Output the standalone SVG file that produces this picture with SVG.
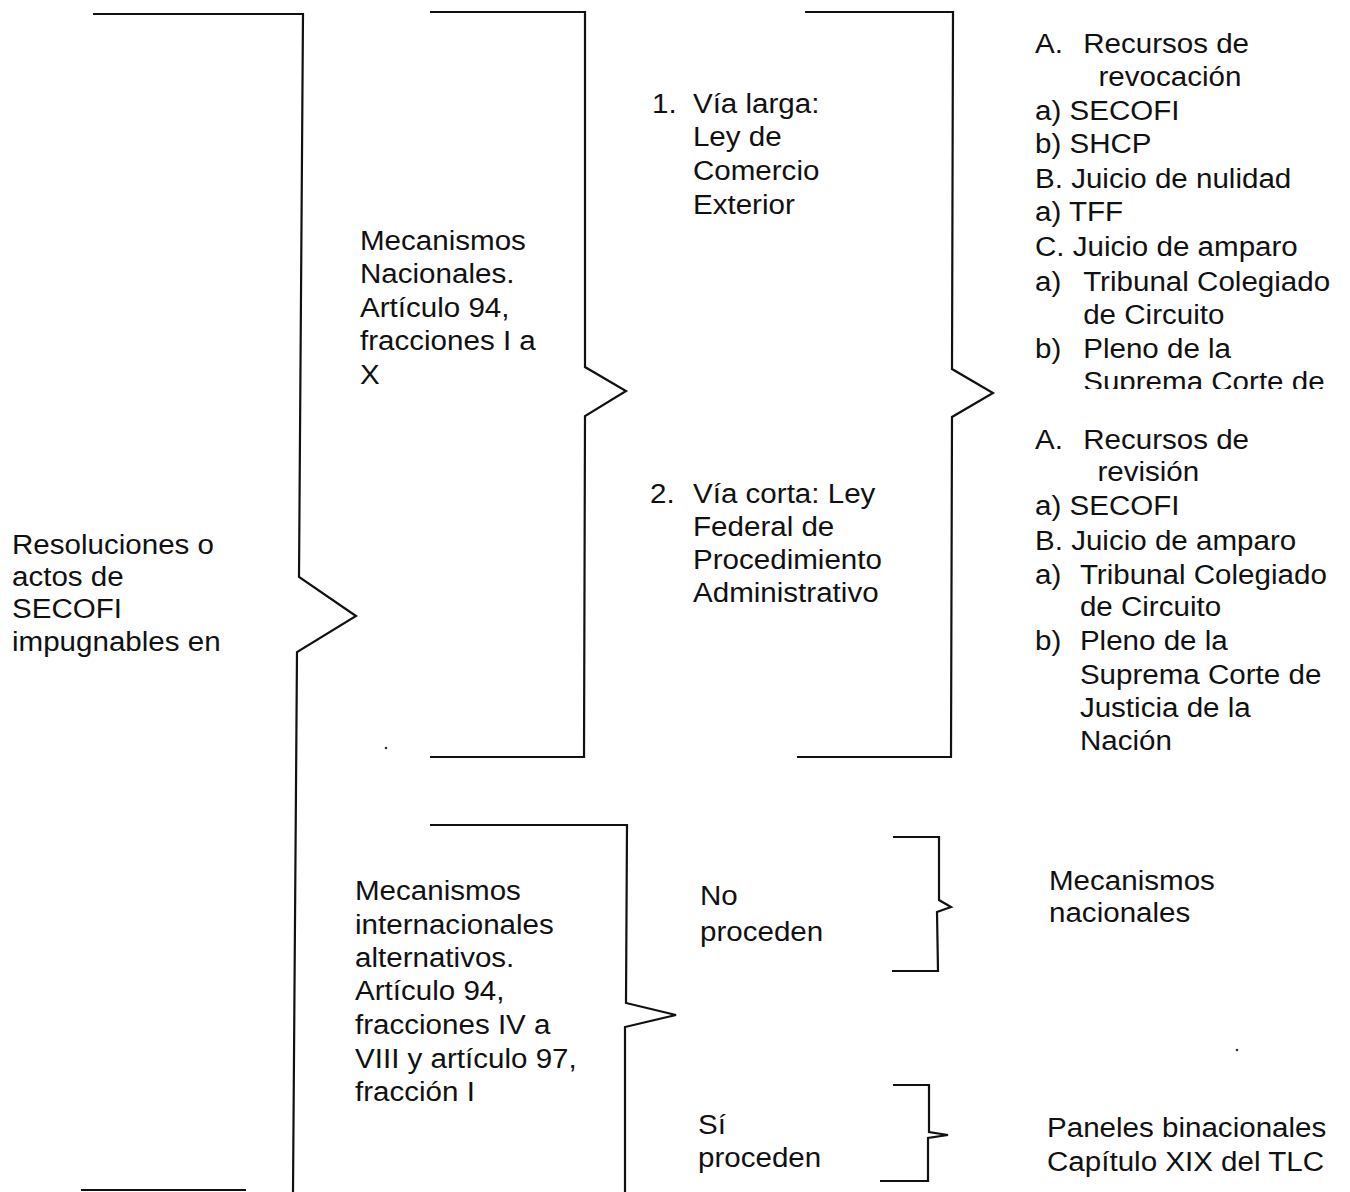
<svg xmlns="http://www.w3.org/2000/svg" width="1350" height="1192" viewBox="0 0 1350 1192">
<style>
text{font-family:"Liberation Sans",Arial,sans-serif;font-size:27px;fill:#111}
.br{fill:none;stroke:#111;stroke-width:2.2;stroke-linejoin:miter}
</style>
<defs>
<clipPath id="clipTop"><rect x="1000" y="0" width="350" height="389"/></clipPath>
</defs>
<rect width="1350" height="1192" fill="#fff"/>
<g id="connectors">
<path class="br" d="M93,14 L303,14 L299,577 L356,616 L297,652 L293,1192"/>
<path class="br" d="M81,1190 L246,1190"/>
<path class="br" d="M430,12 L585,12 L585,367 L626,391 L585,416 L584,757 L430,757"/>
<path class="br" d="M805,12 L953,12 L952,369 L993,393 L952,417 L951,757 L797,757"/>
<path class="br" d="M430,825 L627,825 L626,1003 L676,1015 L625,1027 L625,1192"/>
<path class="br" d="M893,837 L939,837 L939,900 L951,907 L937,912 L938,971 L892,971"/>
<path class="br" d="M893,1085 L929,1085 L929,1132 L948,1135 L928,1138 L928,1181 L880,1181"/>
<circle cx="386" cy="748" r="1.3" fill="#333"/>
<circle cx="1237" cy="1050" r="1.3" fill="#333"/>
</g>
<g id="n-resoluciones" transform="translate(12,0) scale(1.095,1)">
<text y="554"><tspan x="0">Resoluciones o</tspan><tspan x="0" y="586">actos de</tspan><tspan x="0" y="618">SECOFI</tspan><tspan x="0" y="651">impugnables en</tspan></text>
</g>
<g id="n-nacionales" transform="translate(360,0) scale(1.095,1)">
<text y="250"><tspan x="0">Mecanismos</tspan><tspan x="0" y="283">Nacionales.</tspan><tspan x="0" y="317">Artículo 94,</tspan><tspan x="0" y="350">fracciones I a</tspan><tspan x="0" y="384">X</tspan></text>
</g>
<g id="n-vialarga" transform="translate(652,0) scale(1.095,1)">
<text y="113"><tspan x="0">1.</tspan><tspan x="37.4" y="113">Vía larga:</tspan><tspan x="37.4" y="146">Ley de</tspan><tspan x="37.4" y="180">Comercio</tspan><tspan x="37.4" y="214">Exterior</tspan></text>
</g>
<g id="n-viacorta" transform="translate(650,0) scale(1.095,1)">
<text y="503"><tspan x="0">2.</tspan><tspan x="39.3" y="503">Vía corta: Ley</tspan><tspan x="39.3" y="536">Federal de</tspan><tspan x="39.3" y="569">Procedimiento</tspan><tspan x="39.3" y="602">Administrativo</tspan></text>
</g>
<g id="n-revocacion" clip-path="url(#clipTop)">
<g transform="translate(1035,0) scale(1.095,1)">
<text y="53"><tspan x="0">A.</tspan><tspan x="44" y="53">Recursos de</tspan><tspan x="58" y="86">revocación</tspan><tspan x="0" y="120">a) SECOFI</tspan><tspan x="0" y="153">b) SHCP</tspan><tspan x="0" y="188">B. Juicio de nulidad</tspan><tspan x="0" y="221">a) TFF</tspan><tspan x="0" y="256">C. Juicio de amparo</tspan><tspan x="0" y="291">a)</tspan><tspan x="44" y="291">Tribunal Colegiado</tspan><tspan x="44" y="324">de Circuito</tspan><tspan x="0" y="358">b)</tspan><tspan x="44" y="358">Pleno de la</tspan><tspan x="44" y="391">Suprema Corte de</tspan></text>
</g>
</g>
<g id="n-revision" transform="translate(1035,0) scale(1.095,1)">
<text y="449"><tspan x="0">A.</tspan><tspan x="44" y="449">Recursos de</tspan><tspan x="57" y="481">revisión</tspan><tspan x="0" y="515">a) SECOFI</tspan><tspan x="0" y="550">B. Juicio de amparo</tspan><tspan x="0" y="584">a)</tspan><tspan x="41" y="584">Tribunal Colegiado</tspan><tspan x="41" y="616">de Circuito</tspan><tspan x="0" y="650">b)</tspan><tspan x="41" y="650">Pleno de la</tspan><tspan x="41" y="684">Suprema Corte de</tspan><tspan x="41" y="717">Justicia de la</tspan><tspan x="41" y="750">Nación</tspan></text>
</g>
<g id="n-internacionales" transform="translate(355,0) scale(1.095,1)">
<text y="900"><tspan x="0">Mecanismos</tspan><tspan x="0" y="934">internacionales</tspan><tspan x="0" y="967">alternativos.</tspan><tspan x="0" y="1000">Artículo 94,</tspan><tspan x="0" y="1034">fracciones IV a</tspan><tspan x="0" y="1068">VIII y artículo 97,</tspan><tspan x="0" y="1101">fracción I</tspan></text>
</g>
<g id="n-noproceden" transform="translate(700,0) scale(1.095,1)">
<text y="905"><tspan x="0">No</tspan><tspan x="0" y="941">proceden</tspan></text>
</g>
<g id="n-siproceden" transform="translate(698,0) scale(1.095,1)">
<text y="1134"><tspan x="0">Sí</tspan><tspan x="0" y="1167">proceden</tspan></text>
</g>
<g id="n-mecnacionales" transform="translate(1049,0) scale(1.095,1)">
<text y="890"><tspan x="0">Mecanismos</tspan><tspan x="0" y="922">nacionales</tspan></text>
</g>
<g id="n-paneles" transform="translate(1047,0) scale(1.095,1)">
<text y="1137"><tspan x="0">Paneles binacionales</tspan><tspan x="0" y="1171">Capítulo XIX del TLC</tspan></text>
</g>
</svg>
